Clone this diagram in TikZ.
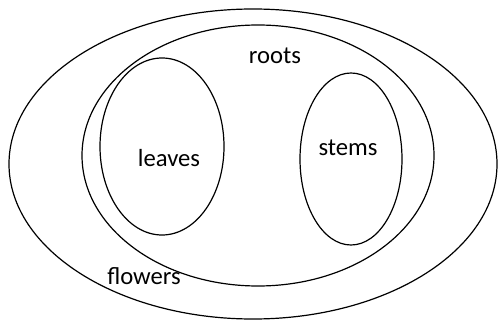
\documentclass[tikz,border=0pt]{standalone}
\usepackage{fontspec}
\setmainfont{Carlito}
\usetikzlibrary{shapes.geometric}
\begin{document}
\begin{tikzpicture}[x=0.75pt,y=-0.75pt,
  ring/.style={draw=black,line width=0.9pt,ellipse},
  lbl/.style={font=\fontsize{18.5pt}{20pt}\selectfont,text=black,inner sep=0pt}]
\useasboundingbox (0,0) rectangle (498,320);
\draw[ring] (253,164) ellipse [x radius=244, y radius=155];
\draw[ring] (258,155.5) ellipse [x radius=176, y radius=130.5];
\draw[ring] (162,146.5) ellipse [x radius=62, y radius=88.5];
\draw[ring] (351,159) ellipse [x radius=51, y radius=86];
\node[lbl] (roots) at (275,56) {roots};
\node[lbl] (leaves) at (169,158) {leaves};
\node[lbl] (stems) at (348,148) {stems};
\node[lbl] (flowers) at (144,276) {flowers};
\end{tikzpicture}
\end{document}
